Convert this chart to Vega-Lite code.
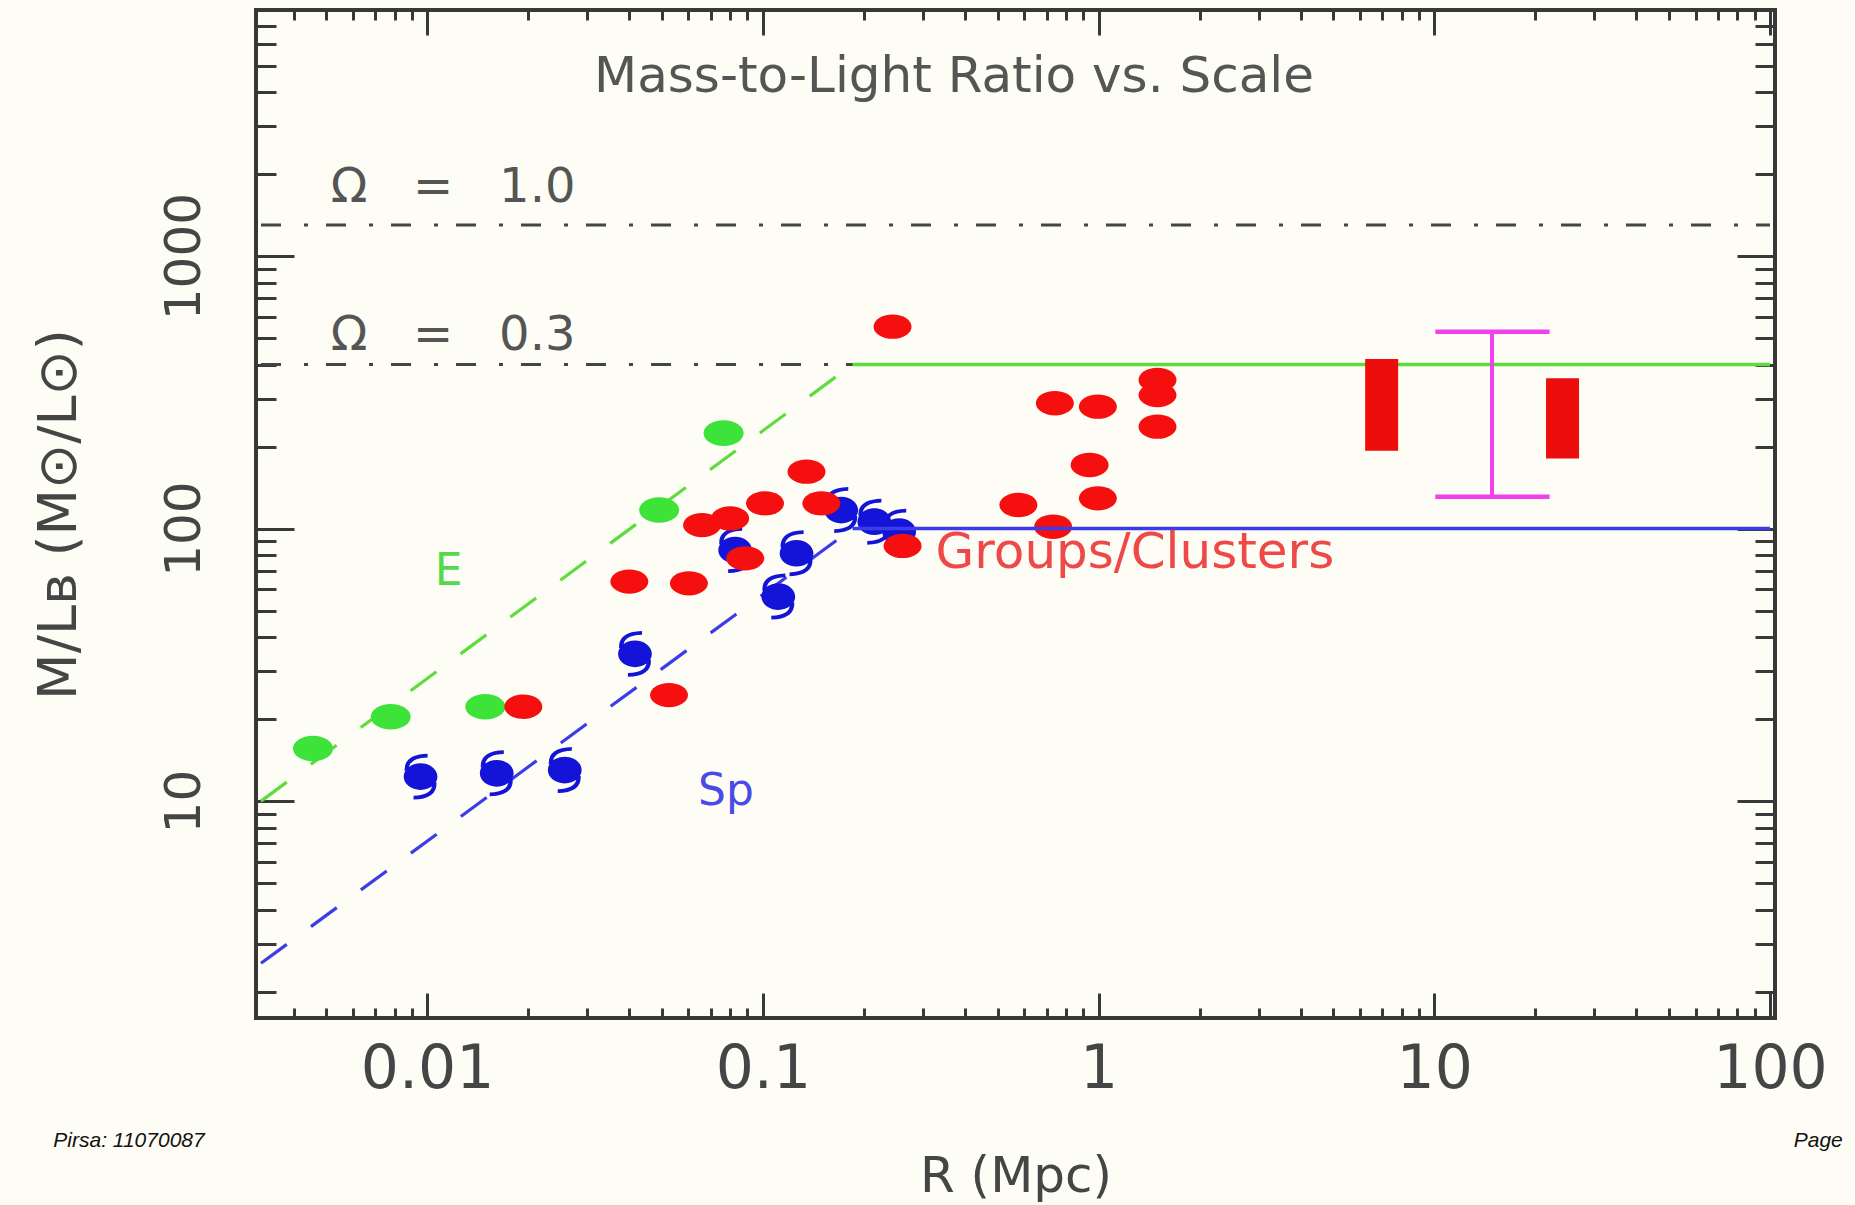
{
  "$schema": "https://vega.github.io/schema/vega-lite/v6.json",
  "width": 1519,
  "height": 1008,
  "autosize": {"type": "none"},
  "padding": {"left": 256, "top": 10, "right": 80, "bottom": 187},
  "background": "#fdfdf5",
  "config": {
    "view": {"stroke": "#383838", "strokeWidth": 4},
    "axis": {
      "grid": false,
      "domain": false,
      "labelFont": "DejaVu Sans",
      "titleFont": "DejaVu Sans",
      "titleFontWeight": "normal",
      "tickColor": "#383838",
      "tickWidth": 3
    },
    "text": {"font": "DejaVu Sans"}
  },
  "datasets": {
    "omega": [
      {"omega": "1.0", "R": 0.0032, "R2": 100, "ML": 1300},
      {"omega": "0.3", "R": 0.0032, "R2": 100, "ML": 400}
    ],
    "trends": [
      {"series": "E", "segment": "rise", "R": 0.0032, "ML": 10, "R2": 0.185, "ML2": 400},
      {"series": "E", "segment": "flat", "R": 0.185, "ML": 400, "R2": 100, "ML2": 400},
      {"series": "Sp", "segment": "rise", "R": 0.0032, "ML": 2.54, "R2": 0.185, "ML2": 100},
      {"series": "Sp", "segment": "flat", "R": 0.185, "ML": 100, "R2": 100, "ML2": 100}
    ],
    "ellipticals": [
      {"R": 0.00457, "ML": 15.6},
      {"R": 0.00779, "ML": 20.4},
      {"R": 0.0149, "ML": 22.2},
      {"R": 0.0491, "ML": 117},
      {"R": 0.0764, "ML": 224}
    ],
    "spirals": [
      {"R": 0.00956, "ML": 12.3},
      {"R": 0.01612, "ML": 12.65},
      {"R": 0.0257, "ML": 13.0},
      {"R": 0.0416, "ML": 34.7},
      {"R": 0.0827, "ML": 83.4},
      {"R": 0.1112, "ML": 56.3},
      {"R": 0.126, "ML": 81.2},
      {"R": 0.1712, "ML": 117},
      {"R": 0.2148, "ML": 106},
      {"R": 0.2547, "ML": 97.4}
    ],
    "groups": [
      {"R": 0.01934, "ML": 22.2},
      {"R": 0.04002, "ML": 63.9},
      {"R": 0.06022, "ML": 63.0},
      {"R": 0.05254, "ML": 24.5},
      {"R": 0.0659, "ML": 103},
      {"R": 0.0799, "ML": 109},
      {"R": 0.0886, "ML": 77.8},
      {"R": 0.1015, "ML": 123.8},
      {"R": 0.1349, "ML": 161.8},
      {"R": 0.1494, "ML": 123.8},
      {"R": 0.2434, "ML": 551},
      {"R": 0.2607, "ML": 86.4},
      {"R": 0.577, "ML": 122.1},
      {"R": 0.7322, "ML": 101.6},
      {"R": 0.741, "ML": 288.4},
      {"R": 0.9952, "ML": 280.2},
      {"R": 0.9404, "ML": 171.2},
      {"R": 0.9952, "ML": 129.2},
      {"R": 1.498, "ML": 351},
      {"R": 1.498, "ML": 309},
      {"R": 1.498, "ML": 236.6}
    ],
    "ranges": [
      {"R": 6.97, "ML": 193, "ML2": 419},
      {"R": 24.1, "ML": 181, "ML2": 356}
    ],
    "whisker": [
      {"R": 14.86, "ML": 131, "ML2": 528}
    ],
    "caps": [
      {"R": 10.07, "R2": 22.05, "ML": 528},
      {"R": 10.07, "R2": 22.05, "ML": 131}
    ],
    "annotations": [
      {"role": "heading", "label": "Mass-to-Light Ratio vs. Scale", "R": 0.371, "ML": 4000},
      {"role": "omega", "label": "Ω\u00a0\u00a0\u00a0=\u00a0\u00a0\u00a01.0", "R": 0.00516, "ML": 1584},
      {"role": "omega", "label": "Ω\u00a0\u00a0\u00a0=\u00a0\u00a0\u00a00.3", "R": 0.00516, "ML": 452},
      {"role": "E", "label": "E", "R": 0.01054, "ML": 62.1},
      {"role": "Sp", "label": "Sp", "R": 0.0641, "ML": 9.64},
      {"role": "groups", "label": "Groups/Clusters", "R": 0.327, "ML": 71.7},
      {"role": "footLeft", "label": "Pirsa: 11070087", "R": 0.00077, "ML": 0.538},
      {"role": "footRight", "label": "Page", "R": 164.7, "ML": 0.538}
    ]
  },
  "encoding": {
    "x": {"field": "R", "type": "quantitative", "scale": {"type": "log", "domain": [0.0032, 100], "nice": false}, "axis": null},
    "y": {"field": "ML", "type": "quantitative", "scale": {"type": "log", "domain": [1.6, 8000], "nice": false}, "axis": null}
  },
  "layer": [
    {
      "data": {"name": "omega"},
      "mark": {"type": "rule", "color": "#444444", "strokeWidth": 3, "strokeDash": [20, 23, 4, 18]},
      "encoding": {
        "x": {
          "field": "R", "type": "quantitative",
          "scale": {"type": "log", "domain": [0.0032, 100], "nice": false},
          "axis": {
            "orient": "bottom", "values": [0.01, 0.1, 1, 10, 100], "format": "~g",
            "tickSize": -25, "labelFontSize": 60, "labelColor": "#454545",
            "labelPadding": 94, "labelBaseline": "alphabetic", "labelAlign": "center",
            "labelFlush": false, "labelOverlap": false, "labelBound": false,
            "title": "R (Mpc)", "titleFontSize": 50, "titleColor": "#454545",
            "titlePadding": 92, "titleBaseline": "alphabetic"
          }
        },
        "x2": {"field": "R2"},
        "y": {
          "field": "ML", "type": "quantitative",
          "scale": {"type": "log", "domain": [1.6, 8000], "nice": false},
          "axis": {
            "orient": "left", "values": [10, 100, 1000], "format": "~g",
            "tickSize": -38, "labelAngle": 270, "labelFontSize": 50, "labelColor": "#454545",
            "labelPadding": 95, "labelBaseline": "alphabetic", "labelAlign": "center",
            "labelFlush": false, "labelOverlap": false, "labelBound": false,
            "title": "M/Lʙ (M⊙/L⊙)", "titleFontSize": 54, "titleColor": "#454545",
            "titleAngle": 270, "titlePadding": 84, "titleBaseline": "alphabetic"
          }
        }
      }
    },
    {
      "data": {"name": "trends"},
      "transform": [{"filter": "datum.segment === 'rise'"}],
      "mark": {"type": "rule", "strokeWidth": 3.2, "strokeDash": [32, 30]},
      "encoding": {
        "x": {
          "field": "R", "type": "quantitative",
          "scale": {"type": "log", "domain": [0.0032, 100], "nice": false},
          "axis": {"orient": "top", "values": [0.01, 0.1, 1, 10, 100], "tickSize": -25, "labels": false, "title": null}
        },
        "x2": {"field": "R2"},
        "y": {
          "field": "ML", "type": "quantitative",
          "scale": {"type": "log", "domain": [1.6, 8000], "nice": false},
          "axis": {"orient": "right", "values": [10, 100, 1000], "tickSize": -38, "labels": false, "title": null}
        },
        "y2": {"field": "ML2"},
        "color": {"field": "series", "type": "nominal", "scale": {"domain": ["E", "Sp"], "range": ["#5edc3c", "#3c3ce8"]}, "legend": null}
      }
    },
    {
      "data": {"name": "ellipticals"},
      "mark": {"type": "point", "shape": "M -1 0 A 1 0.64 0 1 1 1 0 A 1 0.64 0 1 1 -1 0 Z", "filled": true, "size": 1600, "color": "#3ee33a", "opacity": 1, "strokeWidth": 0}
    },
    {
      "data": {"name": "spirals"},
      "mark": {"type": "point", "shape": "M -0.72 0 A 0.72 0.57 0 1 1 0.72 0 A 0.72 0.57 0 1 1 -0.72 0 Z M -0.68 -0.25 Q -0.72 -0.95 0.3 -0.98 L 0.3 -0.82 Q -0.55 -0.8 -0.5 -0.25 Z M 0.68 0.25 Q 0.72 0.95 -0.3 0.98 L -0.3 0.82 Q 0.55 0.8 0.5 0.25 Z", "filled": true, "size": 2200, "color": "#1414d8", "opacity": 1, "strokeWidth": 0}
    },
    {
      "data": {"name": "groups"},
      "mark": {"type": "point", "shape": "M -1 0 A 1 0.64 0 1 1 1 0 A 1 0.64 0 1 1 -1 0 Z", "filled": true, "size": 1444, "color": "#f50f0f", "opacity": 1, "strokeWidth": 0}
    },
    {
      "data": {"name": "trends"},
      "transform": [{"filter": "datum.segment === 'flat'"}],
      "mark": {"type": "rule", "strokeWidth": 3.5},
      "encoding": {
        "x": {
          "field": "R", "type": "quantitative",
          "scale": {"type": "log", "domain": [0.0032, 100], "nice": false},
          "axis": {"orient": "bottom", "values": [0.004, 0.005, 0.006, 0.007, 0.008, 0.009, 0.02, 0.03, 0.04, 0.05, 0.06, 0.07, 0.08, 0.09, 0.2, 0.3, 0.4, 0.5, 0.6, 0.7, 0.8, 0.9, 2, 3, 4, 5, 6, 7, 8, 9, 20, 30, 40, 50, 60, 70, 80, 90], "tickSize": -10, "labels": false, "title": null}
        },
        "x2": {"field": "R2"},
        "y": {
          "field": "ML", "type": "quantitative",
          "scale": {"type": "log", "domain": [1.6, 8000], "nice": false},
          "axis": {"orient": "left", "values": [2, 3, 4, 5, 6, 7, 8, 9, 20, 30, 40, 50, 60, 70, 80, 90, 200, 300, 400, 500, 600, 700, 800, 900, 2000, 3000, 4000, 5000, 6000, 7000], "tickSize": -20, "labels": false, "title": null}
        },
        "color": {"field": "series", "type": "nominal", "scale": {"domain": ["E", "Sp"], "range": ["#5edc3c", "#3c3ce8"]}, "legend": null}
      }
    },
    {
      "data": {"name": "ranges"},
      "mark": {"type": "bar", "width": 33, "color": "#ee0d0d"},
      "encoding": {
        "y2": {"field": "ML2"}
      }
    },
    {
      "data": {"name": "whisker"},
      "mark": {"type": "rule", "color": "#f040f0", "strokeWidth": 4},
      "encoding": {
        "x": {
          "field": "R", "type": "quantitative",
          "scale": {"type": "log", "domain": [0.0032, 100], "nice": false},
          "axis": {"orient": "top", "values": [0.004, 0.005, 0.006, 0.007, 0.008, 0.009, 0.02, 0.03, 0.04, 0.05, 0.06, 0.07, 0.08, 0.09, 0.2, 0.3, 0.4, 0.5, 0.6, 0.7, 0.8, 0.9, 2, 3, 4, 5, 6, 7, 8, 9, 20, 30, 40, 50, 60, 70, 80, 90], "tickSize": -10, "labels": false, "title": null}
        },
        "y": {
          "field": "ML", "type": "quantitative",
          "scale": {"type": "log", "domain": [1.6, 8000], "nice": false},
          "axis": {"orient": "right", "values": [2, 3, 4, 5, 6, 7, 8, 9, 20, 30, 40, 50, 60, 70, 80, 90, 200, 300, 400, 500, 600, 700, 800, 900, 2000, 3000, 4000, 5000, 6000, 7000], "tickSize": -20, "labels": false, "title": null}
        },
        "y2": {"field": "ML2"}
      }
    },
    {
      "data": {"name": "caps"},
      "mark": {"type": "rule", "color": "#f040f0", "strokeWidth": 4.5},
      "encoding": {
        "x2": {"field": "R2"}
      }
    },
    {
      "data": {"name": "annotations"},
      "transform": [{"filter": "datum.role === 'heading'"}],
      "mark": {"type": "text", "fontSize": 50, "color": "#555555", "align": "center", "baseline": "alphabetic"},
      "encoding": {"text": {"field": "label"}}
    },
    {
      "data": {"name": "annotations"},
      "transform": [{"filter": "datum.role === 'omega'"}],
      "mark": {"type": "text", "fontSize": 48, "color": "#555555", "align": "left", "baseline": "alphabetic"},
      "encoding": {"text": {"field": "label"}}
    },
    {
      "data": {"name": "annotations"},
      "transform": [{"filter": "datum.role === 'E'"}],
      "mark": {"type": "text", "fontSize": 44, "color": "#55d94a", "align": "left", "baseline": "alphabetic"},
      "encoding": {"text": {"field": "label"}}
    },
    {
      "data": {"name": "annotations"},
      "transform": [{"filter": "datum.role === 'Sp'"}],
      "mark": {"type": "text", "fontSize": 44, "color": "#4a4ae6", "align": "left", "baseline": "alphabetic"},
      "encoding": {"text": {"field": "label"}}
    },
    {
      "data": {"name": "annotations"},
      "transform": [{"filter": "datum.role === 'groups'"}],
      "mark": {"type": "text", "fontSize": 50, "color": "#ee4848", "align": "left", "baseline": "alphabetic"},
      "encoding": {"text": {"field": "label"}}
    },
    {
      "data": {"name": "annotations"},
      "transform": [{"filter": "datum.role === 'footLeft'"}],
      "mark": {"type": "text", "font": "Liberation Sans", "fontStyle": "italic", "fontSize": 21, "color": "#111111", "align": "left", "baseline": "alphabetic"},
      "encoding": {"text": {"field": "label"}}
    },
    {
      "data": {"name": "annotations"},
      "transform": [{"filter": "datum.role === 'footRight'"}],
      "mark": {"type": "text", "font": "Liberation Sans", "fontStyle": "italic", "fontSize": 21, "color": "#111111", "align": "right", "baseline": "alphabetic"},
      "encoding": {"text": {"field": "label"}}
    }
  ],
  "resolve": {"axis": {"x": "independent", "y": "independent"}}
}
